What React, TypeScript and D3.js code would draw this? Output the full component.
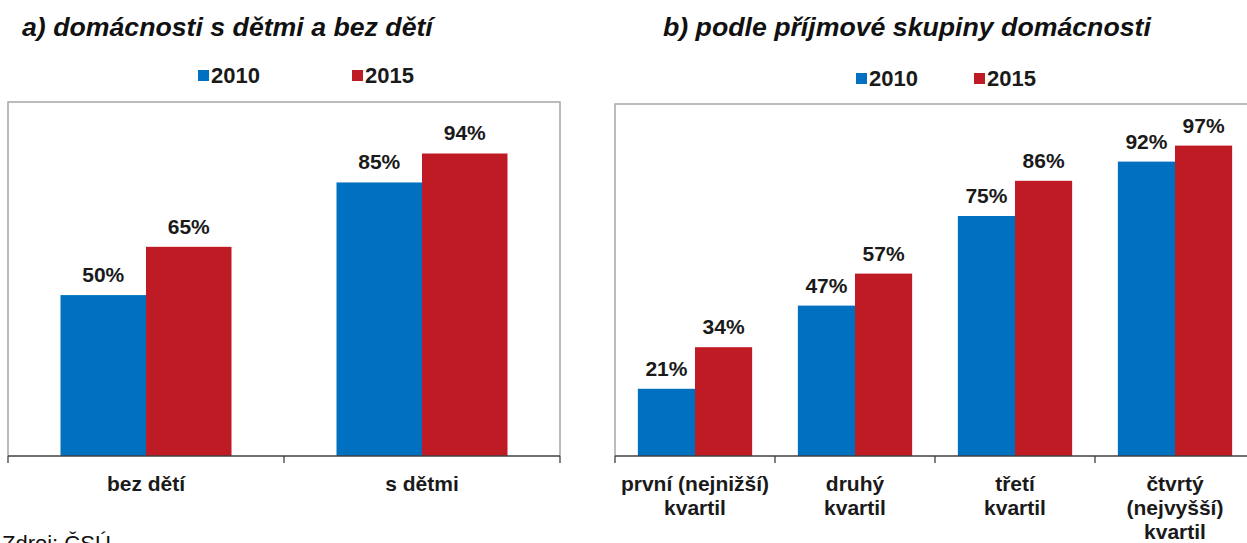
import React from "react";
import * as d3 from "d3";

const seriesNames = ["2010", "2015"];
const colors = ["#0070C0", "#BF1B24"];

const catsA = ["bez dětí", "s dětmi"];
const a2010 = [50, 85];
const a2015 = [65, 94];

const catsB = [
  ["první (nejnižší)", "kvartil"],
  ["druhý", "kvartil"],
  ["třetí", "kvartil"],
  ["čtvrtý", "(nejvyšší)", "kvartil"],
];
const b2010 = [21, 47, 75, 92];
const b2015 = [34, 57, 86, 97];

const FONT = "'Liberation Sans', Arial, sans-serif";

type PanelProps = {
  cats: string[][];
  values: number[][];
  left: number;
  right: number;
  top: number;
  bottom: number;
  outerPad: number;
};

function Panel({ cats, values, left, right, top, bottom, outerPad }: PanelProps) {
  const ids = cats.map((_, i) => String(i));
  const x0 = d3.scaleBand<string>().domain(ids).range([left, right]).padding(0);
  const x1 = d3
    .scaleBand<string>()
    .domain(seriesNames)
    .range([0, x0.bandwidth()])
    .paddingInner(0)
    .paddingOuter(outerPad);
  const y = d3.scaleLinear().domain([0, 110]).range([bottom, top]);
  const tickXs = [...ids.map((id) => x0(id) as number), right];
  return (
    <g>
      <path
        d={`M${left},${bottom} V${top} H${right} V${bottom}`}
        fill="none"
        stroke="#a6a6a6"
        strokeWidth={1.5}
      />
      {ids.map((id, ci) =>
        seriesNames.map((s, si) => {
          const v = values[si][ci];
          const bx = (x0(id) as number) + (x1(s) as number);
          return (
            <g key={id + s}>
              <rect
                x={bx}
                y={y(v)}
                width={x1.bandwidth()}
                height={bottom - y(v)}
                fill={colors[si]}
              />
              <text
                x={bx + x1.bandwidth() / 2}
                y={y(v) - 13}
                textAnchor="middle"
                fontFamily={FONT}
                fontWeight="bold"
                fontSize={21}
                fill="#1a1a1a"
              >
                {v}%
              </text>
            </g>
          );
        })
      )}
      <line x1={left} x2={right} y1={bottom} y2={bottom} stroke="#404040" strokeWidth={1.3} />
      {tickXs.map((tx, i) => (
        <line key={i} x1={tx} x2={tx} y1={bottom} y2={bottom + 7} stroke="#404040" strokeWidth={1.3} />
      ))}
      {cats.map((lines, ci) => (
        <text
          key={ci}
          textAnchor="middle"
          fontFamily={FONT}
          fontWeight="bold"
          fontSize={21}
          fill="#1a1a1a"
        >
          {lines.map((ln, li) => (
            <tspan key={li} x={(x0(ids[ci]) as number) + x0.bandwidth() / 2} y={491 + li * 24}>
              {ln}
            </tspan>
          ))}
        </text>
      ))}
    </g>
  );
}

function Legend({ x1, x2, y }: { x1: number; x2: number; y: number }) {
  return (
    <g fontFamily={FONT} fontWeight="bold" fontSize={22} fill="#1a1a1a">
      {[x1, x2].map((lx, i) => (
        <g key={i}>
          <rect x={lx} y={y - 13} width={11} height={11} fill={colors[i]} />
          <text x={lx + 13} y={y}>
            {seriesNames[i]}
          </text>
        </g>
      ))}
    </g>
  );
}

export default function App() {
  return (
    <svg
      width={1247}
      height={543}
      style={{ position: "absolute", left: 0, top: 0, background: "#fff" }}
    >
      <rect width={1247} height={543} fill="#fff" />
      <text x={22} y={36} fontFamily={FONT} fontWeight="bold" fontStyle="italic" fontSize={26.7} fill="#111">
        a) domácnosti s dětmi a bez dětí
      </text>
      <text x={663} y={36} fontFamily={FONT} fontWeight="bold" fontStyle="italic" fontSize={26.7} fill="#111">
        b) podle příjmové skupiny domácnosti
      </text>
      <Legend x1={198} x2={352} y={83} />
      <Legend x1={856} x2={974} y={86} />
      <Panel
        cats={catsA.map((c) => [c])}
        values={[a2010, a2015]}
        left={8}
        right={560}
        top={102}
        bottom={456}
        outerPad={0.614}
      />
      <Panel
        cats={catsB}
        values={[b2010, b2015]}
        left={615}
        right={1255}
        top={104}
        bottom={456}
        outerPad={0.4}
      />
      <text x={2} y={551} fontFamily={FONT} fontSize={22} fill="#111">
        Zdroj: ČSÚ
      </text>
    </svg>
  );
}
